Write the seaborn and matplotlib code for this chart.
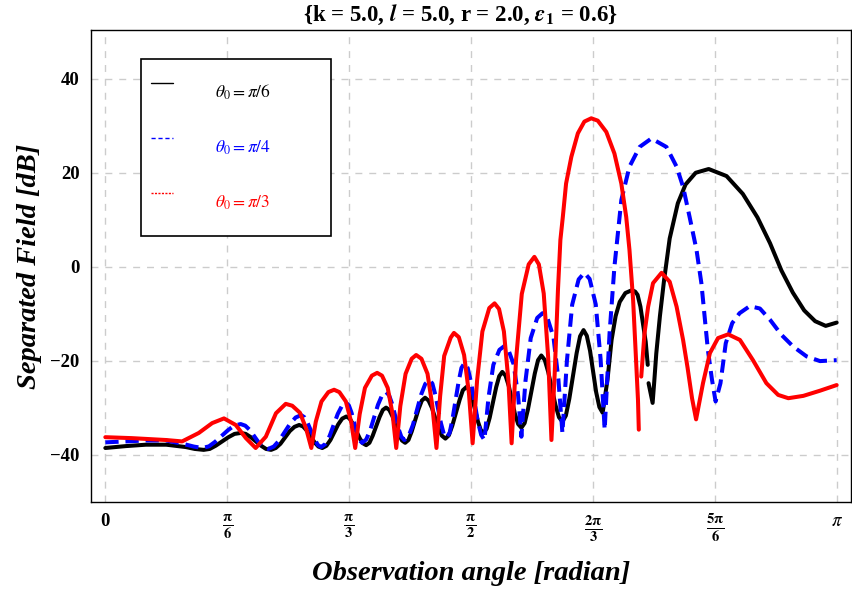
import pandas as pd
import seaborn as sns
import matplotlib.pyplot as plt
from matplotlib.lines import Line2D

# observation angle in degrees, separated field in dB
black_angle_a = [0, 5, 10, 15, 19.8, 22, 24.2,
                 25.7, 27.2, 28.75, 30.3, 31.8, 33.3, 34.55, 35.8, 37.05, 38.3, 39.55, 40.8,
                 41.95, 43.1, 44.25, 45.4, 46.55, 47.7, 48.65, 49.6, 50.55, 51.5, 52.45, 53.4,
                 54.4, 55.4, 56.35, 57.3, 58.3, 59.3, 60.1, 60.9, 61.75, 62.6, 63.4, 64.2,
                 65.0, 65.8, 66.65, 67.5, 68.3, 69.1, 69.9, 70.7, 71.45, 72.2, 73.0, 73.8,
                 74.6, 75.4, 76.25, 77.1, 77.9, 78.7, 79.55, 80.4, 81.2, 82.0, 82.85, 83.7,
                 84.55, 85.4, 86.3, 87.2, 88.0, 88.9, 89.6, 90.3, 91.0, 91.7, 92.4, 93.1,
                 93.85, 94.6, 95.4, 96.2, 96.95, 97.7, 98.5, 99.3, 100.05, 100.8, 101.6, 102.4,
                 103.2, 104.0, 104.85, 105.7, 106.5, 107.3, 108.15, 109.0, 109.9, 110.8, 111.65, 112.5,
                 113.35, 114.2, 115.1, 116.0, 116.85, 117.7, 118.5, 119.3, 120.05, 120.8, 121.6, 122.4,
                 123.6, 124.6, 125.6, 126.6, 128.0, 129.6, 130.4, 131.0, 131.7, 132.3, 133.0, 133.5]
black_field_a = [-38.6, -38.2, -37.9, -37.9, -38.4, -38.8, -39.0,
                 -38.8, -38.1, -37.2, -36.3, -35.6, -35.4, -35.6, -36.3, -37.2, -38.1, -38.8, -39.0,
                 -38.6, -37.7, -36.35, -35.0, -34.1, -33.7, -34.0, -34.9, -36.15, -37.4, -38.3, -38.6,
                 -38.15, -36.9, -35.25, -33.6, -32.35, -31.9, -32.3, -33.4, -34.95, -36.5, -37.6, -38.0,
                 -37.5, -36.0, -34.0, -32.0, -30.5, -30.0, -30.5, -31.9, -33.75, -35.6, -37.0, -37.5,
                 -36.9, -35.1, -32.7, -30.3, -28.5, -27.9, -28.5, -30.1, -32.25, -34.4, -36.0, -36.6,
                 -35.9, -33.85, -31.1, -28.35, -26.3, -25.6, -26.25, -28.05, -30.5, -32.95, -34.75, -35.4,
                 -34.5, -32.15, -28.9, -25.65, -23.3, -22.4, -23.2, -25.4, -28.35, -31.3, -33.5, -34.3,
                 -33.3, -30.45, -26.6, -22.75, -19.9, -18.9, -19.85, -22.4, -25.95, -29.5, -32.05, -33.0,
                 -31.7, -28.1, -23.25, -18.4, -14.8, -13.5, -14.7, -17.9, -22.3, -26.7, -29.9, -31.1,
                 -24.0, -15.6, -10.5, -7.5, -5.6, -5.0, -5.3, -6.0, -8.5, -12.0, -16.0, -20.9]
black_angle_b = [133.7, 134.7, 135.1, 135.6, 136.5, 137.5, 138.9, 140.9, 142.8, 145.3, 148.5,
                 152.9, 156.9, 160.5, 163.6, 166.4, 169.2, 172.0, 174.7, 177.3, 180]
black_field_b = [-24.8, -29.0, -24.5, -18.5, -10.5, -3.0, 6.0, 13.5, 17.5, 20.0, 20.8,
                 19.3, 15.5, 10.5, 5.0, -0.8, -5.5, -9.3, -11.6, -12.6, -11.9]

blue_angle = [0, 5, 10, 14.9, 19.5, 21.8, 23.9,
              25.5, 27.0, 28.6, 30.2, 31.7, 33.3, 34.45, 35.6, 36.7, 37.8, 38.95, 40.1,
              41.45, 42.8, 44.15, 45.5, 46.85, 48.2, 49.0, 49.8, 50.65, 51.5, 52.3, 53.1,
              54.15, 55.2, 56.2, 57.2, 58.25, 59.3, 59.95, 60.6, 61.25, 61.9, 62.55, 63.2,
              64.2, 65.2, 66.15, 67.1, 68.1, 69.1, 69.85, 70.6, 71.35, 72.1, 72.85, 73.6,
              74.65, 75.7, 76.7, 77.7, 78.75, 79.8, 80.5, 81.2, 81.9, 82.6, 83.3, 84.0,
              84.75, 85.45, 86.2, 86.95, 87.65, 88.4, 89.2, 90.0, 90.85, 91.65, 92.5, 93.3,
              94.3, 95.5, 97.0, 98.2, 99.2, 100.5, 101.6, 102.4,
              103.4, 104.7, 106.3, 107.6, 108.8, 110.3, 111.5, 112.5,
              113.6, 114.9, 116.5, 117.9, 119.2, 120.7, 121.9, 122.9,
              124.1, 125.3, 127.0, 129.0, 131.5, 134.4, 138.1, 140.6, 142.2, 143.8, 145.5, 146.7,
              147.5, 148.3, 149.3, 150.2, 151.4, 152.7, 154.3, 156.1, 158.6, 161.1, 163.6, 166.4,
              169.3, 172.6, 175.9, 180]
blue_field = [-37.4, -37.2, -37.0, -37.0, -37.8, -38.3, -38.6,
              -38.25, -37.3, -36.05, -34.8, -33.85, -33.5, -33.85, -34.8, -36.15, -37.5, -38.45, -38.8,
              -38.3, -37.0, -35.2, -33.4, -32.1, -31.6, -32.05, -33.3, -35.0, -36.7, -37.95, -38.4,
              -37.75, -36.05, -33.7, -31.35, -29.6, -29.0, -29.55, -31.1, -33.25, -35.4, -36.95, -37.5,
              -36.8, -34.8, -32.1, -29.4, -27.4, -26.7, -27.4, -29.25, -31.8, -34.35, -36.2, -36.9,
              -36.05, -33.7, -30.5, -27.3, -24.95, -24.1, -24.9, -27.2, -30.25, -33.3, -35.6, -36.4,
              -35.35, -32.4, -28.45, -24.5, -21.55, -20.5, -21.6, -24.6, -28.7, -32.8, -35.8, -36.9,
              -27.9, -20.9, -17.7, -16.9, -17.7, -20.8, -27.5, -36.2,
              -24.4, -15.2, -10.9, -9.9, -10.9, -15.0, -23.9, -35.4,
              -20.1, -8.1, -2.7, -1.3, -2.6, -8.0, -19.7, -34.7,
              -14.2, 0.0, 14.2, 21.3, 25.5, 27.3, 25.5, 21.3, 17.0, 10.6, 3.6, -3.5,
              -10.6, -17.7, -24.0, -28.7, -24.8, -16.3, -12.0, -9.9, -8.4, -8.9, -11.3, -14.5,
              -17.0, -19.1, -20.1, -19.9]

red_angle_a = [0, 6.5, 14.9, 18.9, 23.0, 26.3, 29.2, 32.1, 34.6, 37.0, 39.5, 42.0, 44.4,
               46.0, 47.9, 49.4, 50.7, 51.8, 53.2, 54.9, 56.3, 57.6, 59.2, 60.5, 61.5,
               62.6, 63.9, 65.6, 66.9, 68.1, 69.5, 70.7, 71.6, 72.6, 73.9, 75.4, 76.5,
               77.8, 79.3, 80.5, 81.5, 82.4, 83.4, 85.0, 85.8, 87.0, 88.3, 89.5, 90.4,
               91.5, 92.8, 94.5, 95.8, 96.9, 98.1, 99.2, 100.0, 101.1, 102.5, 104.2, 105.6,
               106.7, 107.9, 109.0, 109.8, 110.6, 111.4, 112.0, 112.6, 113.4, 114.7, 116.3, 117.9,
               119.6, 121.2, 123.3, 125.3, 127.0, 128.2, 129.0, 129.9, 130.5, 131.1, 131.3]
red_field_a = [-36.3, -36.5, -36.9, -37.2, -35.4, -33.3, -32.3, -33.7, -36.5, -38.6, -36.2, -31.2, -29.2,
               -29.6, -31.1, -34.4, -38.6, -33.0, -28.7, -26.7, -26.2, -26.7, -28.7, -33.0, -38.6,
               -31.4, -25.8, -23.2, -22.6, -23.2, -25.8, -31.4, -38.6, -29.7, -22.8, -19.6, -18.8,
               -19.6, -22.8, -29.7, -38.6, -27.6, -19.0, -15.1, -14.1, -15.0, -18.8, -27.0, -37.6,
               -24.2, -13.8, -8.8, -7.8, -9.0, -13.8, -24.2, -37.6, -19.7, -5.8, 0.5, 2.1,
               0.5, -5.7, -19.4, -36.9, -22.7, -5.0, 5.7, 10.6, 17.7, 23.4, 28.4, 30.9,
               31.6, 31.1, 28.7, 24.1, 17.7, 10.6, 3.6, -7.1, -17.7, -28.4, -34.7]
red_angle_b = [131.9, 132.7, 133.6, 134.8, 136.9, 138.9, 140.6, 142.2, 143.3, 144.4, 145.4,
               147.1, 148.8, 150.8, 153.3, 156.2, 159.4, 162.7, 165.6, 168.1, 171.8, 175.9, 180]
red_field_b = [-23.4, -14.2, -8.5, -3.5, -1.3, -3.2, -8.5, -15.6, -21.5, -28.0, -32.5,
               -24.8, -18.4, -15.2, -14.4, -15.6, -19.9, -24.8, -27.3, -28.0, -27.5, -26.4, -25.2]

tick_angles = [0, 30, 60, 90, 120, 150, 180]
tick_names = ["0", r"$\mathbf{\frac{\pi}{6}}$", r"$\mathbf{\frac{\pi}{3}}$", r"$\mathbf{\frac{\pi}{2}}$",
              r"$\mathbf{\frac{2\pi}{3}}$", r"$\mathbf{\frac{5\pi}{6}}$", r"$\pi$"]
legend_names = [r"$\theta_0 = \pi/6$", r"$\theta_0 = \pi/4$", r"$\theta_0 = \pi/3$"]
colors = ["black", "blue", "red"]


def to_frame(*segments):
    parts = []
    for i, (a, f) in enumerate(segments):
        parts.append(pd.DataFrame({"angle": a, "field": f, "segment": i}))
    return pd.concat(parts, ignore_index=True)


black = to_frame((black_angle_a, black_field_a), (black_angle_b, black_field_b))
blue = to_frame((blue_angle, blue_field))
red = to_frame((red_angle_a, red_field_a), (red_angle_b, red_field_b))

sns.set_theme(style="white")
plt.rcParams["font.family"] = ["Liberation Serif", "DejaVu Serif"]
plt.rcParams["mathtext.fontset"] = "stix"
plt.rcParams["text.color"] = "black"
plt.rcParams["axes.labelcolor"] = "black"
plt.rcParams["xtick.color"] = "black"
plt.rcParams["ytick.color"] = "black"

fig = plt.figure(figsize=(8.52, 5.93), dpi=100)
ax = fig.add_axes([90.7 / 852, 1 - 502 / 593, 760.6 / 852, 472 / 593])

for df, c in zip([black, blue, red], colors):
    n = len(ax.lines)
    sns.lineplot(data=df, x="angle", y="field", units="segment", estimator=None,
                 sort=False, color=c, linewidth=2.9, ax=ax, legend=False)
    for ln in ax.lines[n:]:
        ln.set_solid_joinstyle("round")
        if c == "blue":
            ln.set_dashes((3.3, 1.7))

ax.set_xlim(-3.6, 183.6)
ax.set_ylim(-50.1, 50.4)
ax.set_xticks(tick_angles)
ax.set_xticklabels(tick_names)
ax.set_yticks([-40, -20, 0, 20, 40])
ax.set_xlabel("")
ax.set_ylabel("")
ax.tick_params(direction="in", length=7, width=1, labelsize=13.5, pad=8,
               colors="black", labelcolor="black")
for lbl in ax.get_xticklabels() + ax.get_yticklabels():
    lbl.set_fontweight("bold")
for lbl in ax.get_xticklabels()[1:-1]:
    lbl.set_fontsize(15)
ax.grid(True, color="#cccccc", linestyle=(0, (5, 5)), linewidth=1)
ax.set_axisbelow(True)
for sp in ax.spines.values():
    sp.set_color("black")
    sp.set_linewidth(1)

fig.text(460 / 852, 1 - 15 / 593, r"{k = 5.0, $\mathbfit{l}$ = 5.0, r = 2.0, $\mathbfit{\varepsilon}_\mathbf{1}$ = 0.6}",
         ha="center", va="center", fontsize=16.5, fontweight="bold", color="black")
fig.text(30 / 852, 1 - 266 / 593, "Separated Field [dB]", rotation=90, ha="center", va="center",
         fontsize=20.5, fontstyle="italic", fontweight="bold", color="black")
fig.text(471 / 852, 1 - 573 / 593, "Observation angle [radian]", ha="center", va="center",
         fontsize=20.5, fontstyle="italic", fontweight="bold", color="black")

handles = [Line2D([], [], color="black", lw=1),
           Line2D([], [], color="blue", lw=1, dashes=(3, 2)),
           Line2D([], [], color="red", lw=1, dashes=(1.5, 1))]
leg = ax.legend(handles, legend_names, loc="upper left",
                bbox_to_anchor=(0.0661, 0.5, 0.2498, 0.4386), mode="expand", borderaxespad=0,
                fontsize=12.5, labelcolor=colors, handlelength=1.26, handletextpad=2.4,
                handleheight=3.7, labelspacing=0.52, borderpad=0.6, fancybox=False,
                edgecolor="black", framealpha=1)
leg.get_frame().set_linewidth(1.2)

fig.savefig("out.png", dpi=100)
